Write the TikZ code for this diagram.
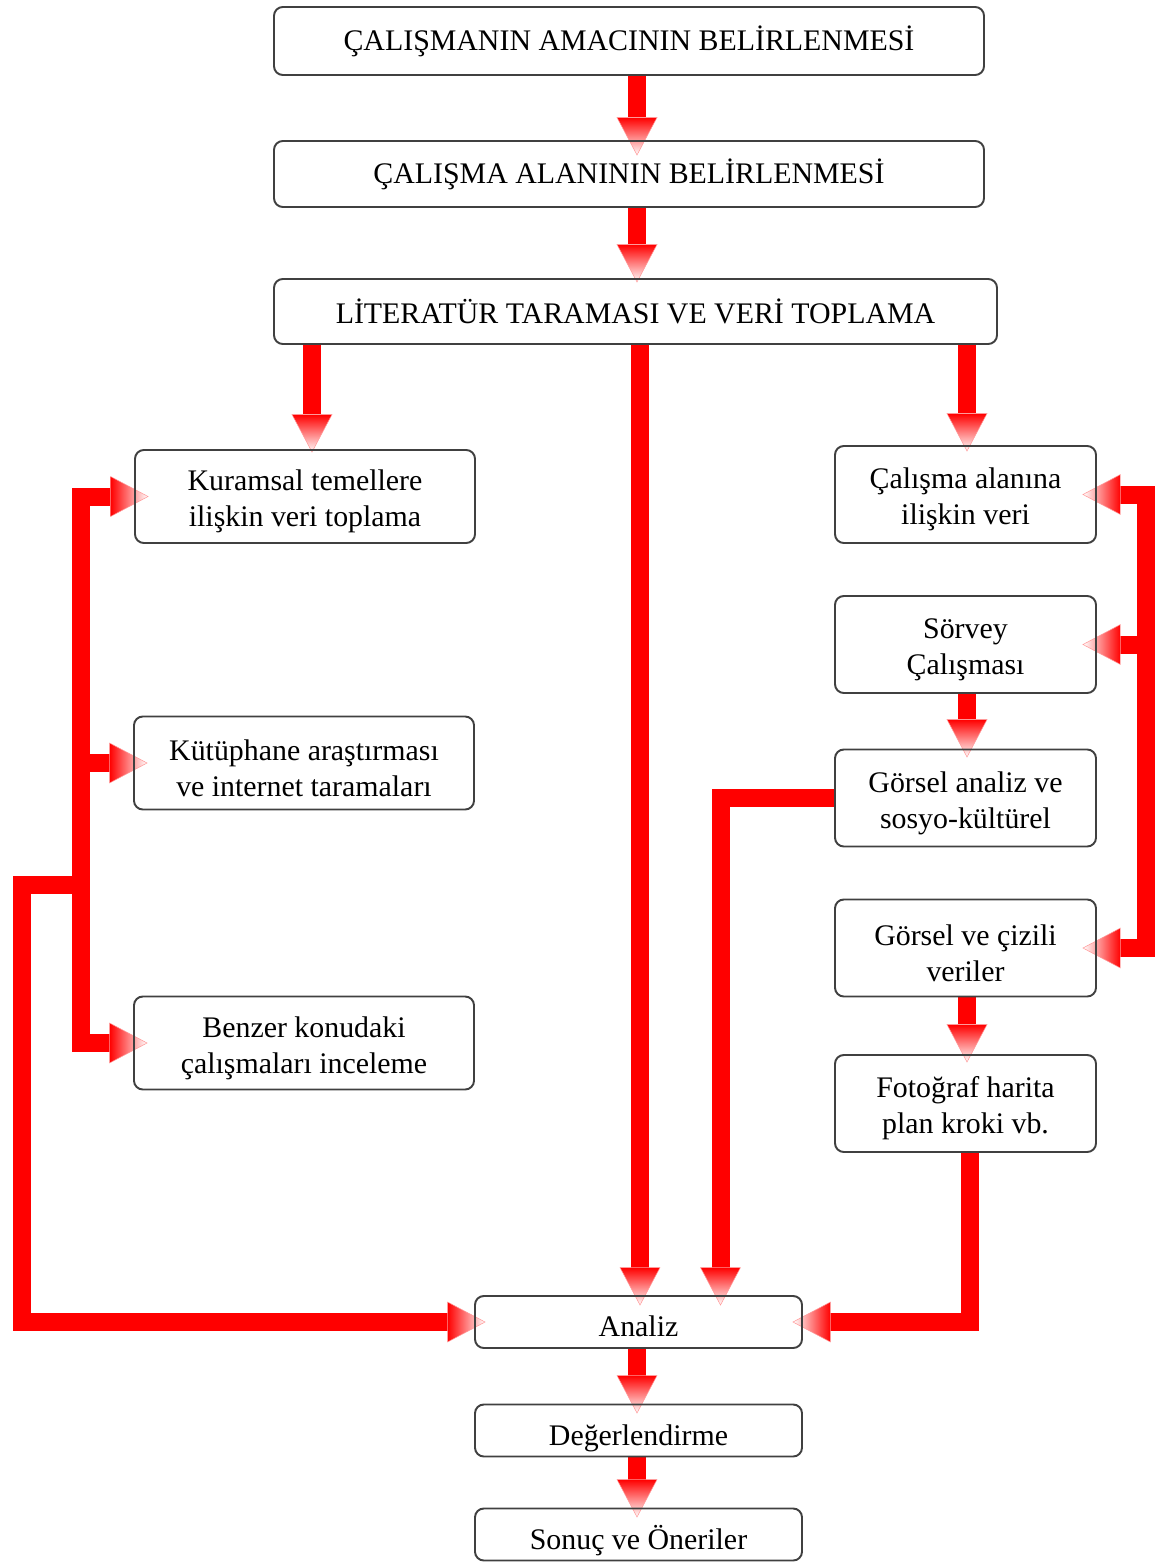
\documentclass[tikz,border=0pt]{standalone}
\usepackage{fontspec}
\setmainfont{Liberation Serif}
\usetikzlibrary{backgrounds}
\newcommand\ilk{\rule{0pt}{0.61cm}}
\tikzset{
  kutu/.style={rectangle, rounded corners=5pt, draw=black!75, line width=1.1pt,
    align=center, inner sep=2pt, font=\fontsize{17}{20.5}\selectfont},
  buyuk/.style={kutu, minimum width=14.2cm, minimum height=1.36cm},
  solkutu/.style={kutu, minimum width=6.8cm, minimum height=1.86cm},
  sagkutu/.style={kutu, minimum width=5.22cm, minimum height=1.94cm},
  altkutu/.style={kutu, minimum width=6.54cm, minimum height=1.04cm,
    text height=0.7cm, text depth=0.12cm},
  bant/.style={draw=red, line width=0.36cm, line join=miter},
  bantok/.style={bant, shorten >=0.72cm},
  asagi/.pic={\shade[top color=red, bottom color=white, draw=red!40, line width=0.3pt]
    (-0.4,0.75) -- (0.4,0.75) -- (0,0) -- cycle;},
  saga/.pic={\shade[left color=red, right color=white, draw=red!40, line width=0.3pt]
    (-0.75,0.4) -- (0,0) -- (-0.75,-0.4) -- cycle;},
  sola/.pic={\shade[right color=red, left color=white, draw=red!40, line width=0.3pt]
    (0.75,0.4) -- (0,0) -- (0.75,-0.4) -- cycle;},
}

\begin{document}
\begin{tikzpicture}
  \useasboundingbox (0,0) rectangle (23.22,-31.24);

  \node[buyuk] (amac) at (12.58,-0.82) {ÇALIŞMANIN AMACININ BELİRLENMESİ};
  \node[buyuk, minimum height=1.32cm] (alan) at (12.58,-3.48) {ÇALIŞMA ALANININ  BELİRLENMESİ};
  \node[buyuk, minimum width=14.46cm, minimum height=1.3cm] (lit) at (12.71,-6.23) {LİTERATÜR TARAMASI VE VERİ TOPLAMA};

  \node[solkutu] (kuram) at (6.10,-9.93) {\ilk Kuramsal temellere\\ilişkin veri toplama};
  \node[solkutu] (kutup) at (6.08,-15.26) {\ilk Kütüphane araştırması\\ve internet taramaları};
  \node[solkutu] (benzer) at (6.08,-20.86) {\ilk Benzer konudaki\\çalışmaları inceleme};

  \node[sagkutu] (calis) at (19.31,-9.89) {\ilk Çalışma alanına\\ilişkin veri};
  \node[sagkutu] (sorvey) at (19.31,-12.89) {\ilk Sörvey\\Çalışması};
  \node[sagkutu] (gorsel) at (19.31,-15.96) {\ilk Görsel analiz ve\\sosyo-kültürel};
  \node[sagkutu] (cizili) at (19.31,-18.96) {\ilk Görsel ve çizili\\veriler};
  \node[sagkutu] (foto) at (19.31,-22.07) {\ilk Fotoğraf harita\\plan kroki vb.};

  \node[altkutu] (analiz) at (12.77,-26.44) {Analiz};
  \node[altkutu] (deger) at (12.77,-28.61) {Değerlendirme};
  \node[altkutu] (sonuc) at (12.77,-30.69) {Sonuç ve Öneriler};

  % uc noktalari
  \coordinate (u1) at (12.74,-3.10);
  \coordinate (u2) at (12.74,-5.64);
  \coordinate (u3) at (6.24,-9.04);
  \coordinate (u4) at (12.80,-26.10);
  \coordinate (u5) at (19.34,-9.02);
  \coordinate (u6) at (19.34,-15.14);
  \coordinate (u7) at (19.34,-21.24);
  \coordinate (u8) at (14.41,-26.10);
  \coordinate (u9) at (12.74,-28.26);
  \coordinate (u10) at (12.74,-30.34);
  \coordinate (k1) at ([xshift=0.28cm]kuram.west);
  \coordinate (k2) at ([xshift=0.28cm]kutup.west);
  \coordinate (k3) at ([xshift=0.28cm]benzer.west);
  \coordinate (c1) at ([xshift=-0.28cm]calis.east);
  \coordinate (c2) at ([xshift=-0.28cm]sorvey.east);
  \coordinate (c4) at ([xshift=-0.28cm]cizili.east);
  \coordinate (a1) at ([xshift=0.22cm]analiz.west);
  \coordinate (a2) at ([xshift=-0.2cm]analiz.east);
  \coordinate (sol) at (1.62,0);
  \coordinate (sag) at (22.91,0);
  \coordinate (geri) at (0.44,-17.7);
  \coordinate (fx) at (19.40,0);

  \begin{scope}[on background layer]
    \draw[bantok] (amac.south -| u1) -- (u1);
    \draw[bantok] (alan.south -| u2) -- (u2);
    \draw[bantok] (lit.south -| u3) -- (u3);
    \draw[bantok] (lit.south -| u4) -- (u4);
    \draw[bantok] (lit.south -| u5) -- (u5);
    % sol kol
    \draw[bant, shorten <=0.72cm, shorten >=0.72cm] (k1) -| (sol |- k3) -- (k3);
    \draw[bantok] (sol |- k2) -- (k2);
    \draw[bantok] (sol |- geri) -- (geri) |- (a1);
    % sag kol
    \draw[bant, shorten <=0.72cm, shorten >=0.72cm] (c1) -| (sag |- c4) -- (c4);
    \draw[bantok] (sag |- c2) -- (c2);
    \draw[bantok] (sorvey.south -| u6) -- (u6);
    \draw[bantok] (cizili.south -| u7) -- (u7);
    \draw[bantok] (gorsel.west) -| (u8);
    \draw[bantok] (foto.south -| fx) |- (a2);
    \draw[bantok] (analiz.south -| u9) -- (u9);
    \draw[bantok] (deger.south -| u10) -- (u10);

    \foreach \u in {u1,u2,u3,u4,u5,u6,u7,u8,u9,u10} \pic at (\u) {asagi};
    \foreach \u in {k1,k2,k3,a1} \pic at (\u) {saga};
    \foreach \u in {c1,c2,c4,a2} \pic at (\u) {sola};
  \end{scope}
\end{tikzpicture}
\end{document}
